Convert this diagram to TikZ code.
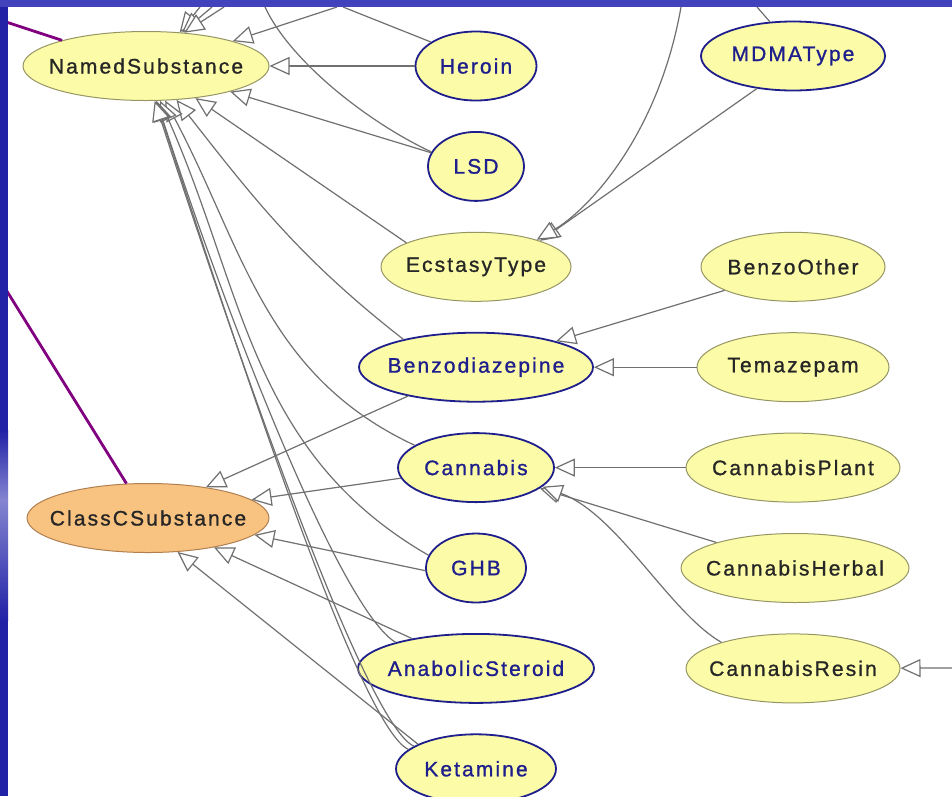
\documentclass[tikz,border=0pt]{standalone}
\usepackage{fontspec}
\setmainfont{Liberation Sans}[LetterSpace=10,FakeBold=1]
\usepackage{tikz}
\usetikzlibrary{shapes.geometric}
\usetikzlibrary{positioning}
\usetikzlibrary{arrows.meta}
\usetikzlibrary{calc}
\definecolor{slideblue}{RGB}{34,34,166}
\definecolor{slidelight}{RGB}{132,132,210}
\definecolor{slidetop}{RGB}{66,66,188}
\definecolor{clsyellow}{RGB}{252,252,168}
\definecolor{clsorange}{RGB}{248,194,128}
\definecolor{clsolive}{RGB}{150,150,100}
\definecolor{clsbrown}{RGB}{176,128,80}
\definecolor{clsnavy}{RGB}{30,30,140}
\definecolor{edgegray}{RGB}{112,112,112}
\definecolor{relpurple}{RGB}{128,0,128}
\newcommand{\cname}[1]{\makebox[0pt]{#1}}
\tikzset{cls/.style={ellipse,draw=clsolive,fill=clsyellow,line width=1pt,minimum height=69pt,inner sep=0pt,font=\fontsize{21}{24}\selectfont,text=black!85},
defcls/.style={cls,draw=clsnavy,line width=1.8pt,text=clsnavy},
edge/.style={draw=edgegray,line width=1.2pt},
isa/.style={edge,-{Triangle[open,fill=white,length=20pt,width=18pt]}},
rel/.style={draw=relpurple,line width=2.8pt}}

\begin{document}
\begin{tikzpicture}[x=1pt,y=1pt]
\useasboundingbox (0,0) rectangle (952,-796);
\fill[white] (0,0) rectangle (952,-796);

\node (named) at (146,-66) [cls, minimum width=246pt] {\cname{NamedSubstance}};
\node (classc) at (148,-518) [cls, fill=clsorange, draw=clsbrown, minimum width=242pt] {\cname{ClassCSubstance}};

\foreach \n/\t/\w/\s [count=\i from 0] in {heroin/Heroin/121/defcls, lsd/LSD/96/defcls, ecstasy/EcstasyType/190/cls, benzo/Benzodiazepine/234/defcls, cannabis/Cannabis/156/defcls, ghb/GHB/100/defcls, anabolic/AnabolicSteroid/236/defcls, ketamine/Ketamine/160/defcls} {
\node (\n) at (476,{-66-100.4*\i}) [\s, minimum width=\w pt] {\cname{\t}};
}

\node (mdma) at (793,-56) [defcls, minimum width=184pt] {\cname{MDMAType}};
\node (benzoother) [right of=ecstasy, node distance=317pt, cls, minimum width=184pt] {\cname{BenzoOther}};
\node (temazepam) [right of=benzo, node distance=317pt, cls, minimum width=192pt] {\cname{Temazepam}};
\node (plant) [right of=cannabis, node distance=317pt, cls, minimum width=214pt] {\cname{CannabisPlant}};
\node (herbal) [right of=ghb, node distance=319pt, cls, minimum width=228pt] {\cname{CannabisHerbal}};
\node (resin) [right of=anabolic, node distance=317pt, cls, minimum width=214pt] {\cname{CannabisResin}};

\coordinate (namedsrc) at (337,-7);
\coordinate (heroinup) at (343,-7);
\coordinate (lsdup) at (265,-7);
\coordinate (mdmaup) at (757,-7);
\coordinate (ecstasysrc) at (681,-7);
\coordinate (resinsrc) at (952,-668);
\coordinate (namedrel) at (0,-20);
\coordinate (classcrel) at (0,-280);
\foreach \x [count=\i] in {200,212,224} \coordinate (up\i) at (\x,-7);

\draw[isa] (heroin) -- (named);
\draw[isa] (lsd) -- (named);
\draw[isa] (ecstasy.161) -- (named.-33);
\draw[isa] (benzo.159) to[out=142,in=-52] (named.-48);
\draw[isa] (cannabis.160) to[out=155,in=-62] (named.-61);
\draw[isa] (ghb.165) to[out=150,in=-66] (named.-68);
\draw[isa] (anabolic.162) .. controls +(150:60) and +(-72:250) .. (named.-73);
\foreach \a/\b in {164/-74,160/-76} {
\draw[isa] (ketamine.\a) .. controls +(155:50) and +(-72:320) .. (named.\b);
}
\draw[isa] (namedsrc) -- (named.16);
\foreach \i/\a in {1/45,2/43,3/41} \draw[isa] (up\i) -- (named.\a);

\draw[isa] (benzo.203) -- (classc.28);
\draw[isa] (cannabis.188) -- (classc.10);
\draw[isa] (ghb.183) -- (classc.-9);
\draw[isa] (anabolic.155) -- (classc.-24);
\draw[isa] (ketamine.157) -- (classc.-49);

\draw[isa] (mdma.222) -- (ecstasy.22);
\draw[isa] (ecstasysrc) .. controls +(-100:130) and +(30:60) .. (ecstasy.24);
\draw[isa] (benzoother.199) -- (benzo.18);
\draw[isa] (temazepam) -- (benzo);
\draw[isa] (plant) -- (cannabis);
\draw[isa] (herbal.162) -- (cannabis.-18);
\draw[isa] (resin.160) .. controls +(150:60) and +(-20:80) .. (cannabis.-16);
\draw[isa] (resinsrc) -- (resin);

\draw[edge] (mdma.124) -- (mdmaup);
\draw[edge] (heroin.152) -- (heroinup);
\draw[edge] (lsd.162) .. controls +(155:70) and +(-65:60) .. (lsdup);

\draw[rel] (namedrel) -- (named.163);
\draw[rel] (classcrel) -- (classc.122);

% slide frame
\fill[slideblue] (0,0) rectangle (8,-430);
\shade[top color=slideblue, bottom color=slidelight] (0,-430) rectangle (8,-500);
\shade[top color=slidelight, bottom color=slideblue] (0,-500) rectangle (8,-620);
\fill[slideblue] (0,-620) rectangle (8,-796);
\fill[slidetop] (0,0) rectangle (952,-7);
\end{tikzpicture}
\end{document}
